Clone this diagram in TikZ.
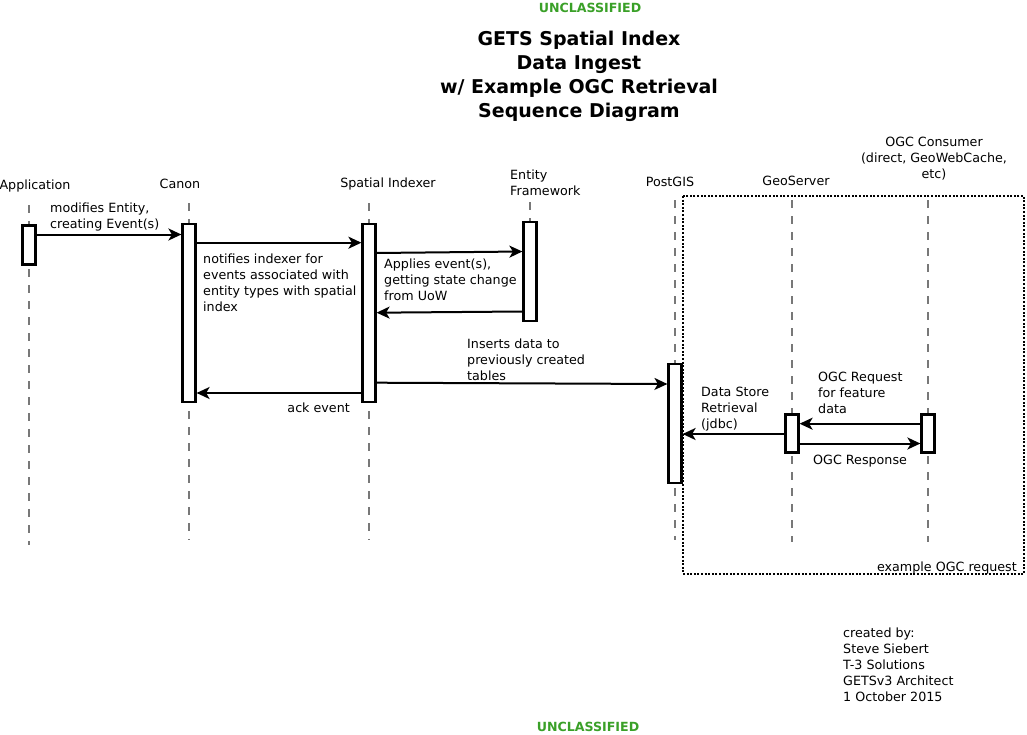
\documentclass[tikz,border=0pt]{standalone}
\usepackage{fontspec}
\setmainfont{DejaVu Sans}
\usetikzlibrary{arrows.meta}
\definecolor{ucgreen}{RGB}{58,160,40}
\definecolor{lifegray}{RGB}{120,120,120}
\begin{document}
\begin{tikzpicture}[x=1bp,y=-1bp,
  txt/.style={inner sep=0pt, font=\fontsize{12.7bp}{16bp}\selectfont, align=left},
  ctxt/.style={inner sep=0pt, font=\fontsize{12.7bp}{16bp}\selectfont, align=center},
  ttl/.style={inner sep=0pt, font=\bfseries\fontsize{19bp}{24bp}\selectfont, align=center},
  uc/.style={inner sep=0pt, text=ucgreen, font=\bfseries\fontsize{12.6bp}{16bp}\selectfont},
  act/.style={draw=black, fill=white, line width=2.2bp, minimum width=13bp, inner sep=0pt},
  life/.style={draw=lifegray, line width=1.5bp, dash pattern=on 8bp off 8bp},
  msg/.style={draw=black, line width=2bp, -{Stealth[length=13bp,width=12bp,inset=3.5bp]}},
  frame/.style={draw=black, line width=2bp, dash pattern=on 2bp off 1.6bp}]
\useasboundingbox (0,0) rectangle (1027,735);

% classification banners
\node[uc, anchor=north] (uctop) at (590,3) {UNCLASSIFIED};
\node[uc, anchor=north] (ucbot) at (588,722) {UNCLASSIFIED};

% title
\node[ttl, anchor=north] (title) at (579,31) {GETS Spatial Index\\Data Ingest \\w/ Example OGC Retrieval\\Sequence Diagram};

% example frame
\draw[frame] (683,196) rectangle (1024,574);
\node[txt, anchor=north east] (framelbl) at (1017,562) {example OGC request};

% participants
\node[ctxt, anchor=north] (happ) at (35,180) {Application};
\node[ctxt, anchor=north] (hcanon) at (180,179) {Canon};
\node[ctxt, anchor=north] (hspatial) at (388,178) {Spatial Indexer};
\node[txt, anchor=north west] (hef) at (510,170) {Entity\\Framework};
\node[ctxt, anchor=north] (hpg) at (670,177) {PostGIS};
\node[ctxt, anchor=north] (hgeo) at (796,176) {GeoServer};
\node[ctxt, anchor=north] (hogc) at (934,137) {OGC Consumer\\(direct, GeoWebCache,\\etc)};

% lifeline ends
\coordinate (lappT) at (29,205);   \coordinate (lappB) at (29,545);
\coordinate (lcanT) at (189,203);  \coordinate (lcanB) at (189,540);
\coordinate (lspaT) at (369,203);  \coordinate (lspaB) at (369,540);
\coordinate (lefT) at (530,202);   \coordinate (lefB) at (530,330);
\coordinate (lpgT) at (675,200);   \coordinate (lpgB) at (675,540);
\coordinate (lgeoT) at (792,200);  \coordinate (lgeoB) at (792,542);
\coordinate (logcT) at (928,200);  \coordinate (logcB) at (928,542);
\draw[life] (lappT) -- (lappB);
\draw[life] (lcanT) -- (lcanB);
\draw[life] (lspaT) -- (lspaB);
\draw[life] (lefT) -- (lefB);
\draw[life] (lpgT) -- (lpgB);
\draw[life] (lgeoT) -- (lgeoB);
\draw[life] (logcT) -- (logcB);

% activation boxes
\node[act, minimum height=39bp] (app) at (29,245) {};
\node[act, minimum height=178bp] (canon) at (189,313.3) {};
\node[act, minimum height=178bp] (spatial) at (369,312.7) {};
\node[act, minimum height=99bp] (ef) at (530,271.7) {};
\node[act, minimum height=119bp] (pg) at (675,423.8) {};
\node[act, minimum height=38bp] (geo) at (792,433.5) {};
\node[act, minimum height=38bp] (ogc) at (928,433.5) {};

% message heights
\coordinate (m1) at (0,234.5);
\coordinate (m2) at (0,242.7);
\coordinate (m3a) at (0,253);
\coordinate (m3b) at (0,251.5);
\coordinate (m4a) at (0,311.5);
\coordinate (m4b) at (0,312.7);
\coordinate (m5a) at (0,382.7);
\coordinate (m5b) at (0,384);
\coordinate (m6) at (0,393);
\coordinate (m7) at (0,434);
\coordinate (m8) at (0,423.7);
\coordinate (m9) at (0,443.5);

\draw[msg] (app.east |- m1) -- (canon.west |- m1);
\draw[msg] (canon.east |- m2) -- (spatial.west |- m2);
\draw[msg] (spatial.east |- m3a) -- (ef.west |- m3b);
\draw[msg] (ef.west |- m4a) -- (spatial.east |- m4b);
\draw[msg] (spatial.east |- m5a) -- (pg.west |- m5b);
\draw[msg] (spatial.west |- m6) -- (canon.east |- m6);
\draw[msg] (geo.west |- m7) -- (pg.east |- m7);
\draw[msg] (ogc.west |- m8) -- (geo.east |- m8);
\draw[msg] (geo.east |- m9) -- (ogc.west |- m9);

% message labels
\node[txt, anchor=north west] (l1) at (50,203) {modifies Entity,\\creating Event(s)};
\node[txt, anchor=north west] (l2) at (203,254) {notifies indexer for\\events associated with\\entity types with spatial\\index};
\node[txt, anchor=north west] (l3) at (384,258.5) {Applies event(s),\\getting state change\\from UoW};
\node[txt, anchor=north west] (l5) at (467,339) {Inserts data to\\previously created\\tables};
\node[txt, anchor=north east] (l6) at (350,403) {ack event};
\node[txt, anchor=north west] (l7) at (701,386.5) {Data Store\\Retrieval\\(jdbc)};
\node[txt, anchor=north west] (l8) at (818,371.5) {OGC Request\\for feature\\data};
\node[txt, anchor=north west] (l9) at (813,455) {OGC Response};

% credits
\node[txt, anchor=north west] (credit) at (843,627.5) {created by:\\Steve Siebert\\T-3 Solutions\\GETSv3 Architect\\1 October 2015};
\end{tikzpicture}
\end{document}
